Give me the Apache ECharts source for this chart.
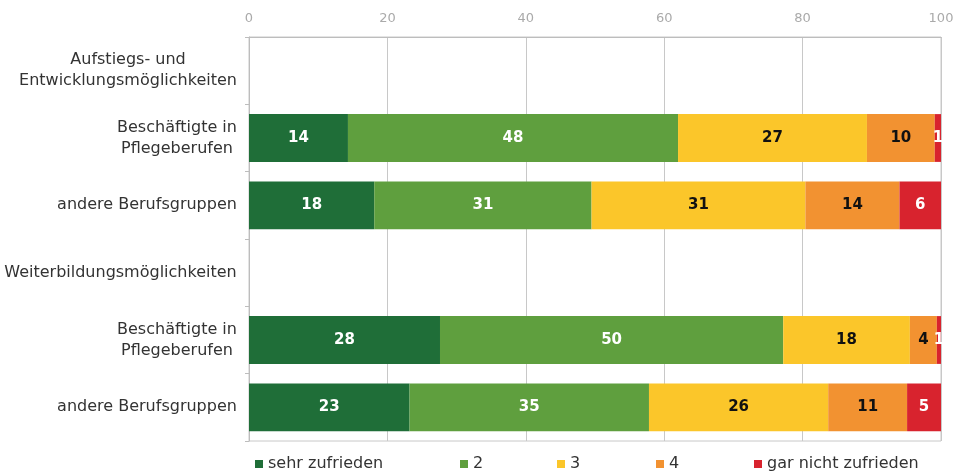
<!DOCTYPE html>
<html><head><meta charset="utf-8">
<script src="https://cdn.jsdelivr.net/npm/echarts@6/dist/echarts.min.js"></script>
<style>html,body{margin:0;padding:0;background:#fff}#c{width:963px;height:473px}</style>
</head><body><div id="c"></div>
<script>
const categories = [
  'Aufstiegs- und\nEntwicklungsmöglichkeiten',
  'Beschäftigte in\nPflegeberufen',
  'andere Berufsgruppen',
  'Weiterbildungsmöglichkeiten',
  'Beschäftigte in\nPflegeberufen',
  'andere Berufsgruppen'
];
const seriesNames = ['sehr zufrieden', '2', '3', '4', 'gar nicht zufrieden'];
const sehrZufrieden = [null, 14.3, 18.1, null, 27.6, 23.2];
const wert2 = [null, 47.7, 31.4, null, 49.6, 34.6];
const wert3 = [null, 27.3, 30.9, null, 18.3, 25.9];
const wert4 = [null, 9.8, 13.6, null, 3.9, 11.4];
const garNicht = [null, 0.9, 6.0, null, 0.6, 4.9];
const xTicks = [0, 20, 40, 60, 80, 100];

const colors = ['#1f6e38', '#5f9f3e', '#fbc62a', '#f29231', '#d8232e'];
const labelColors = ['#ffffff', '#ffffff', '#111111', '#111111', '#ffffff'];
const values = [sehrZufrieden, wert2, wert3, wert4, garNicht];
const legendLeft = [250, 455, 552, 651, 749];

const labelFontSize = 16;
const labelFont = labelFontSize + 'px "DejaVu Sans"';
const ctx = document.createElement('canvas').getContext('2d');
ctx.font = labelFont;
const rich = {};
categories.forEach((c, i) => {
  const w = Math.max(...c.split('\n').map(s => ctx.measureText(s).width));
  rich['r' + i] = { width: Math.ceil(w), align: 'center', fontSize: labelFontSize, lineHeight: 21, color: '#333', fontFamily: 'DejaVu Sans' };
});

const chart = echarts.init(document.getElementById('c'));
chart.setOption({
  animation: false,
  textStyle: { fontFamily: 'DejaVu Sans' },
  grid: { left: 249, right: 22, top: 37, bottom: 32, show: true, borderColor: '#c8c8c8', borderWidth: 1 },
  legend: seriesNames.map((n, i) => ({
    data: [n], left: legendLeft[i], top: 451, itemWidth: 8, itemHeight: 8, itemGap: 5, icon: 'rect',
    textStyle: { fontSize: 16, color: '#333', fontFamily: 'DejaVu Sans' }
  })),
  xAxis: {
    type: 'value', position: 'top', min: xTicks[0], max: xTicks[xTicks.length - 1], interval: 20,
    axisLine: { show: true, lineStyle: { color: '#bdbdbd' } },
    axisTick: { show: false },
    axisLabel: { color: '#aaaaaa', fontSize: 13, margin: 12 },
    splitLine: { show: true, lineStyle: { color: '#c8c8c8' } }
  },
  yAxis: {
    type: 'category', inverse: true, data: categories,
    axisLine: { show: true, lineStyle: { color: '#bdbdbd' } },
    axisTick: { show: true, length: 4, lineStyle: { color: '#bdbdbd' } },
    axisLabel: {
      color: '#333', fontSize: labelFontSize, margin: 12, lineHeight: 21, align: 'right',
      formatter: (v, idx) => v.split('\n').map(s => '{r' + idx + '|' + s + '}').join('\n'),
      rich: rich
    }
  },
  series: seriesNames.map((n, i) => ({
    name: n, type: 'bar', stack: 'total', data: values[i], barCategoryGap: '29%',
    itemStyle: { color: colors[i] },
    label: {
      show: true, position: 'inside', color: labelColors[i], fontWeight: 'bold', fontSize: 15,
      fontFamily: 'DejaVu Sans',
      formatter: p => (p.value == null ? '' : String(Math.round(p.value)))
    }
  }))
});
</script></body></html>
